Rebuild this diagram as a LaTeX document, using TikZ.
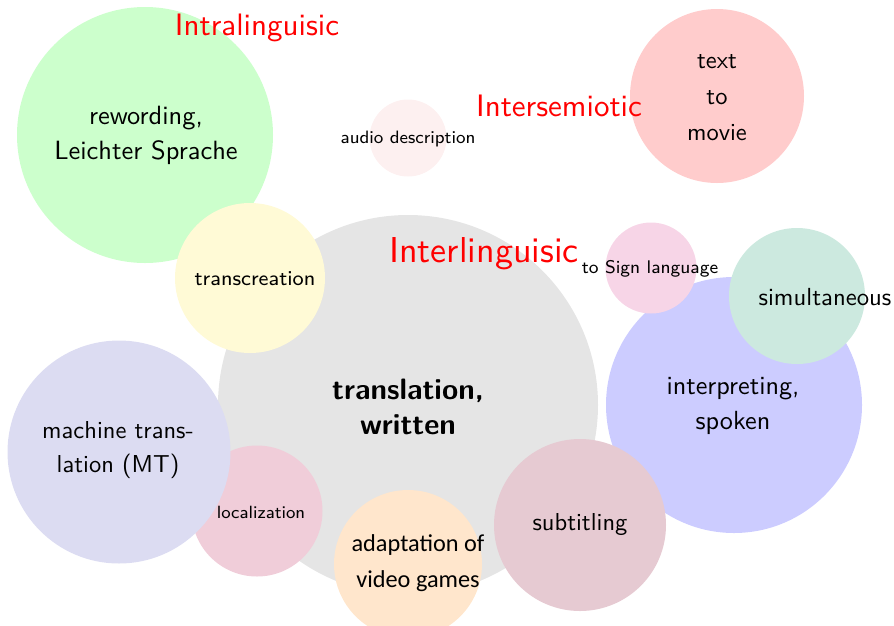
\documentclass[tikz,border=0pt]{standalone}
\usepackage{fontspec}
\newfontfamily\carl{Carlito}
\newfontfamily\lmten{lmsans10-regular.otf}[BoldFont=lmsans10-bold.otf]
\newfontfamily\lmeight{lmsans8-regular.otf}
\definecolor{cGreen}{RGB}{204,255,204}
\definecolor{cYellow}{RGB}{255,250,214}
\definecolor{cGray}{RGB}{229,229,229}
\definecolor{cAudio}{RGB}{253,240,240}
\definecolor{cMovie}{RGB}{255,204,204}
\definecolor{cSign}{RGB}{247,213,231}
\definecolor{cSimul}{RGB}{204,233,223}
\definecolor{cInterp}{RGB}{204,204,255}
\definecolor{cMT}{RGB}{220,220,242}
\definecolor{cLocal}{RGB}{240,205,217}
\definecolor{cAdapt}{RGB}{255,230,204}
\definecolor{cSubt}{RGB}{230,202,210}
\newcommand{\fs}[2]{\fontsize{#1}{#2}\selectfont}
\begin{document}
\begin{tikzpicture}[x=1pt,y=-1pt,
  circ/.style={circle,inner sep=0pt,draw=none},
  txt/.style={align=center,inner sep=0pt,text=black},
  cat/.style={inner sep=0pt,text=red}]
\useasboundingbox (0,0) rectangle (894,625);
% circles
\node[circ,fill=cGreen,minimum size=256pt] (rew) at (145,135) {};
\node[circ,fill=cGray,minimum size=380pt] (trans) at (408,405) {};
\node[circ,fill=cYellow,minimum size=150pt] (tc) at (250,278) {};
\node[circ,fill=cLocal,minimum size=131pt] (loc) at (257,511) {};
\node[circ,fill=cMT,minimum size=223pt] (mt) at (119,452) {};
\node[circ,fill=cAdapt,minimum size=148pt] (ad) at (408,564) {};
\node[circ,fill=cAudio,minimum size=77pt] (aud) at (408,138) {};
\node[circ,fill=cMovie,minimum size=174pt] (mov) at (717,96) {};
\node[circ,fill=cInterp,minimum size=256pt] (int) at (734,405) {};
\node[circ,fill=cSubt,minimum size=172pt] (sub) at (580,525) {};
\node[circ,fill=cSign,minimum size=91pt] (sign) at (651,268) {};
\node[circ,fill=cSimul,minimum size=136pt] (sim) at (797,296) {};
% texts
\node[txt,font=\lmten\fs{26.4}{35}] (rewT) at (146,135) {rewording,\\Leichter Sprache};
\node[txt,font=\lmten\bfseries\fs{29.5}{35}] (transT) at (408,406.5) {translation,\\written};
\node[txt,font=\lmeight\fs{21}{25}] (tcT) at (255,279) {transcreation};
\node[txt,font=\lmeight\fs{17.7}{22}] (locT) at (261,512) {localization};
\node[txt,font=\lmten\fs{24.5}{34}] (mtT) at (118,450) {machine trans-\\lation (MT)};
\node[txt,font=\carl\fs{24.3}{36}] (adT) at (418,563) {adaptation of\\video games};
\node[txt,font=\lmeight\fs{17.9}{20}] (audT) at (408,139) {audio description};
\node[txt,font=\lmten\fs{24.5}{36}] (movT) at (717,98) {text\\to\\movie};
\node[txt,font=\lmten\fs{26.2}{35}] (intT) at (733,406) {interpreting,\\spoken};
\node[txt,font=\lmten\fs{24.5}{28}] (subT) at (580,525) {subtitling};
\node[txt,font=\lmeight\fs{18.3}{22}] (signT) at (650,269) {to Sign language};
\node[txt,font=\lmten\fs{24.7}{28}] (simT) at (825,297) {simultaneous};
\node[cat,font=\lmten\fs{31}{34}] (intra) at (257,28) {Intralinguisic};
\node[cat,font=\lmten\fs{31}{34}] (inter) at (559,105.5) {Intersemiotic};
\node[cat,font=\lmten\fs{36}{40}] (interl) at (484,254) {Interlinguisic};
\end{tikzpicture}
\end{document}
